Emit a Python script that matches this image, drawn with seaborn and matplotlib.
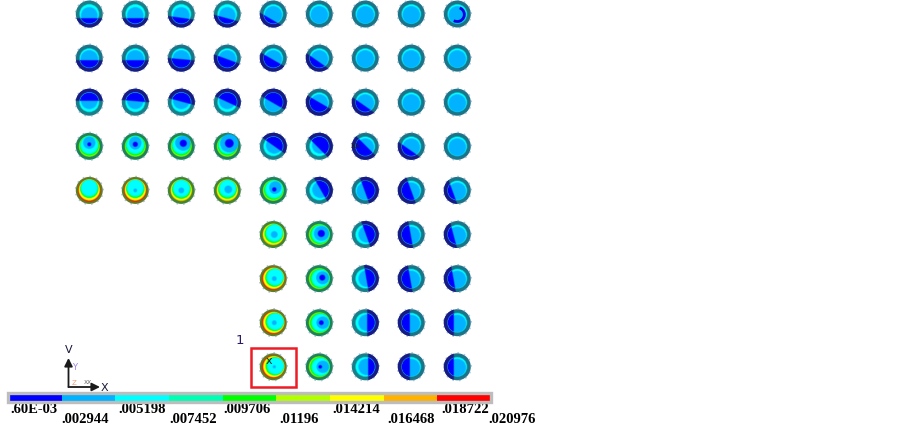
import numpy as np
import pandas as pd

# Plotting
import seaborn as sns
import matplotlib.pyplot as plt
from matplotlib.colors import ListedColormap, to_rgba
from matplotlib.patches import Circle, Polygon, Rectangle, Arc

N = np.nan

# legend of the contour plot
LEVEL_COLORS = ['#0000ff', '#00b2ff', '#00ffff', '#00ffb2', '#00ff00',
                '#b2ff00', '#ffff00', '#ffb200', '#ff0000']
LEVEL_LABELS = ['.60E-03', '.002944', '.005198', '.007452', '.009706',
                '.01196', '.014214', '.016468', '.018722', '.020976']

# how hot every pin looks, 0 (cold) to 4, nan = no pin there
HEAT = [
    [1, 1, 1, 1, 0, 0, 0, 0, 0],
    [0, 0, 0, 0, 0, 0, 0, 0, 0],
    [1, 1, 1, 1, 0, 0, 0, 0, 0],
    [2, 2, 2, 2, 1, 1, 0, 0, 0],
    [4, 4, 3, 3, 2, 1, 0, 0, 0],
    [N, N, N, N, 3, 2, 1, 0, 0],
    [N, N, N, N, 4, 2, 1, 0, 0],
    [N, N, N, N, 4, 2, 1, 0, 0],
    [N, N, N, N, 4, 2, 1, 0, 0],
]
# side of the pin the warm crescent sits on, degrees
HEAT_SIDE = [
    [90, 90, 90, 90, 90, 90, 90, 90, 90],
    [90, 90, 90, 90, 90, 90, 90, 90, 90],
    [270, 270, 270, 270, 90, 90, 90, 90, 90],
    [270, 270, 270, 260, 225, 225, 90, 90, 90],
    [270, 270, 265, 260, 235, 210, 90, 90, 90],
    [N, N, N, N, 235, 200, 190, 90, 90],
    [N, N, N, N, 220, 190, 180, 90, 90],
    [N, N, N, N, 210, 180, 180, 90, 90],
    [N, N, N, N, 200, 180, 180, 90, 90],
]
# low-value (blue) segment: direction and distance of its chord from the centre
CHORD_ANGLE = [
    [270, 270, 262, 255, 240, N, N, N, N],
    [270, 270, 265, 250, 240, 235, N, N, N],
    [90, 85, 75, 65, 60, 240, 235, N, N],
    [N, N, N, N, 55, 45, 225, 235, N],
    [N, N, N, N, N, 30, 20, 200, 200],
    [N, N, N, N, N, N, 20, 190, 195],
    [N, N, N, N, N, N, 10, 190, 190],
    [N, N, N, N, N, N, 0, 180, 180],
    [N, N, N, N, N, N, 0, 180, 180],
]
CHORD_DEPTH = [
    [.45, .45, .45, .5, .65, N, N, N, N],
    [.2, .2, .15, .15, .2, .4, N, N, N],
    [.2, .15, .1, .05, -.05, .05, .4, N, N],
    [N, N, N, N, .1, -.15, -.05, .45, N],
    [N, N, N, N, N, .2, -.05, .05, .55],
    [N, N, N, N, N, N, .1, .1, .45],
    [N, N, N, N, N, N, .15, .15, .45],
    [N, N, N, N, N, N, .2, .2, .5],
    [N, N, N, N, N, N, .25, .25, .5],
]
# (row, col): dx, dy, radius, level of the spot inside a pin
SPOTS = {
    (3, 0): (0, -2, 1.6, 0), (3, 1): (0, -2, 2.2, 0), (3, 2): (2, -3, 3.2, 0),
    (3, 3): (2, -3, 4, 0), (4, 1): (0, 0, 1.5, 1), (4, 2): (0, 0, 2.5, 1),
    (4, 3): (1, -1, 3.5, 1), (4, 4): (1, -1, 1.8, 0), (5, 4): (1, 0, 3, 1),
    (5, 5): (2, -1, 3.2, 0), (6, 4): (1, 0, 2, 1), (6, 5): (3, -1, 2.6, 0),
    (7, 4): (1, 0, 2, 1), (7, 5): (2, 0, 2, 0), (8, 4): (1, 0, 1.2, 1),
    (8, 5): (1, 0, 1.4, 0),
}
# (level, radius) painted from outside in for every heat class
HEAT_LAYERS = {
    0: [(2, 9.4), (1, 8.4)],
    1: [(2, 9.5), (1, 7.9)],
    2: [(5, 10.0), (4, 9.5), (3, 8.8), (2, 8.1), (1, 5.8)],
    3: [(7, 10.3), (6, 9.9), (4, 9.1), (3, 8.4), (2, 7.7)],
    4: [(8, 10.7), (7, 10.3), (6, 9.9), (4, 8.9), (3, 8.3), (2, 7.6)],
}
RIM_COLORS = ['#1b7488', '#1a7f88', '#1d8458', '#42852f', '#667a22']

# pixel layout of the picture
LEFT, TOP, DX, DY = 89.3, 14.0, 46.0, 44.1
R_PIN = 13.5
R_CORE = 9.0

sns.set_theme(style="white")
plt.rcParams['font.family'] = ['Liberation Serif', 'DejaVu Sans']

fig = plt.figure(figsize=(9.03, 4.28), dpi=100)
ax = fig.add_axes([0, 0, 1, 1])


def soft_circle(cx, cy, radius, color, zorder):
    # half transparent edge, the reference image is a bit blurry
    ax.add_patch(Circle((cx, cy), radius, facecolor=color, edgecolor=to_rgba(color, 0.45),
                        lw=1.0, zorder=zorder))


def half_plane(cx, cy, angle, depth, radius, color, clip_radius, zorder):
    a = np.deg2rad(angle)
    u = np.array([np.cos(a), -np.sin(a)])
    v = np.array([-u[1], u[0]])
    p = np.array([cx, cy]) + u * depth * radius
    poly = Polygon([p - v * 40, p + v * 40, p + v * 40 + u * 40, p - v * 40 + u * 40],
                   closed=True, facecolor=color, edgecolor=to_rgba(color, 0.45), lw=1.0, zorder=zorder)
    ax.add_patch(poly)
    poly.set_clip_path(Circle((cx, cy), clip_radius, transform=ax.transData))


rows, cols = np.indices((9, 9))
pins = pd.DataFrame({'row': rows.ravel(), 'col': cols.ravel(),
                     'heat': np.array(HEAT, dtype=float).ravel()}).dropna()
pins['x'] = LEFT + pins['col'] * DX
pins['y'] = TOP + pins['row'] * DY
pins['heat'] = pins['heat'].astype(int)

sns.scatterplot(data=pins, x='x', y='y', hue='heat', palette=RIM_COLORS, s=378,
                linewidth=0, legend=False, ax=ax)

for pin in pins.itertuples():
    cx, cy = pin.x, pin.y
    angle = CHORD_ANGLE[pin.row][pin.col]
    depth = CHORD_DEPTH[pin.row][pin.col]
    side = np.deg2rad(HEAT_SIDE[pin.row][pin.col])

    # element marks around the rim
    ax.add_patch(Circle((cx, cy), R_PIN + 0.3, fill=False, edgecolor='#7a96c0',
                        lw=1.2, ls=(0, (1, 3)), alpha=0.6, zorder=2))
    if not np.isnan(angle):
        # the rim gets dark next to the blue segment
        half_plane(cx, cy, angle, depth, R_CORE, '#1a1a86', R_PIN, 3)

    start = HEAT_LAYERS[pin.heat][0][1]
    for level, radius in HEAT_LAYERS[pin.heat]:
        # crescents: every next disc slides away from the warm side
        shift = (start - radius) * 0.85
        soft_circle(cx - np.cos(side) * shift, cy + np.sin(side) * shift,
                    radius, LEVEL_COLORS[level], 4)

    if not np.isnan(angle):
        half_plane(cx, cy, angle, depth, R_CORE, LEVEL_COLORS[0], R_CORE + 0.5, 5)

    if (pin.row, pin.col) in SPOTS:
        dx, dy, radius, level = SPOTS[(pin.row, pin.col)]
        if level == 0:
            soft_circle(cx + dx, cy + dy, radius * 2.2, LEVEL_COLORS[1], 5)
        soft_circle(cx + dx, cy + dy, radius, LEVEL_COLORS[level], 6)

# crescent in the top right pin
ax.add_patch(Arc((LEFT + 8 * DX, TOP + 0.5), 14, 14, theta1=-70, theta2=120, color='#0000e0',
                 lw=2.0, zorder=6))

# selected pin
ax.add_patch(Rectangle((250.7, 347.7), 45.3, 39.6, fill=False, edgecolor='#ee1c25', lw=1.8, zorder=7))
ax.text(239.5, 341, '1', family='DejaVu Sans', fontsize=9.5, color='#2a1a6a', ha='center', va='center')
ax.text(269, 361.5, 'x', family='DejaVu Sans', fontsize=8, color='#222222', ha='center', va='center', zorder=8)
ax.text(356, 146, 'xx', family='DejaVu Sans', fontsize=6, color='#222222', ha='center', va='center', zorder=8)

# axis triad
ax.annotate('', xy=(68.5, 358), xytext=(68.5, 387), zorder=3,
            arrowprops=dict(arrowstyle='-|>', color='#1a1a1a', lw=1.3, shrinkA=0, shrinkB=0))
ax.annotate('', xy=(100, 387), xytext=(68.5, 387), zorder=3,
            arrowprops=dict(arrowstyle='-|>', color='#1a1a1a', lw=1.3, shrinkA=0, shrinkB=0))
ax.text(68.5, 350, 'V', family='DejaVu Sans', fontsize=8, color='#1a1a3a', ha='center', va='center')
ax.text(104, 388, 'X', family='DejaVu Sans', fontsize=8, color='#1a1a3a', ha='center', va='center')
ax.text(75, 367, 'Y', family='DejaVu Sans', fontsize=6, color='#a080e0', ha='center', va='center')
ax.text(74, 383, 'Z', family='DejaVu Sans', fontsize=5, color='#f0a080', ha='center', va='center')
ax.text(88, 382, 'xx', family='DejaVu Sans', fontsize=5, color='#777777', ha='center', va='center')

ax.set_xlim(0, 903)
ax.set_ylim(428, 0)
ax.axis('off')

# contour legend
bar_ax = fig.add_axes([8 / 903, 1 - 402 / 428, 483 / 903, 9 / 428])
sns.heatmap([list(range(len(LEVEL_COLORS)))], cmap=ListedColormap(LEVEL_COLORS), cbar=False,
            xticklabels=False, yticklabels=False, ax=bar_ax)
bar_ax.add_patch(Rectangle((0, 0), 1, 1, transform=bar_ax.transAxes, fill=False,
                           edgecolor='#bdbdbd', lw=2.4, clip_on=False))

# labels take turns on a high and a low line under the bar
label_centers = np.array([34, 85, 142, 193, 247, 299, 356, 411, 465, 512])
for i, label in enumerate(LEVEL_LABELS):
    ax.text(label_centers[i], 409.5 if i % 2 == 0 else 419.5, label, fontsize=10.5, fontweight='bold',
            color='black', ha='center', va='center')

plt.savefig('out.png', dpi=100)
